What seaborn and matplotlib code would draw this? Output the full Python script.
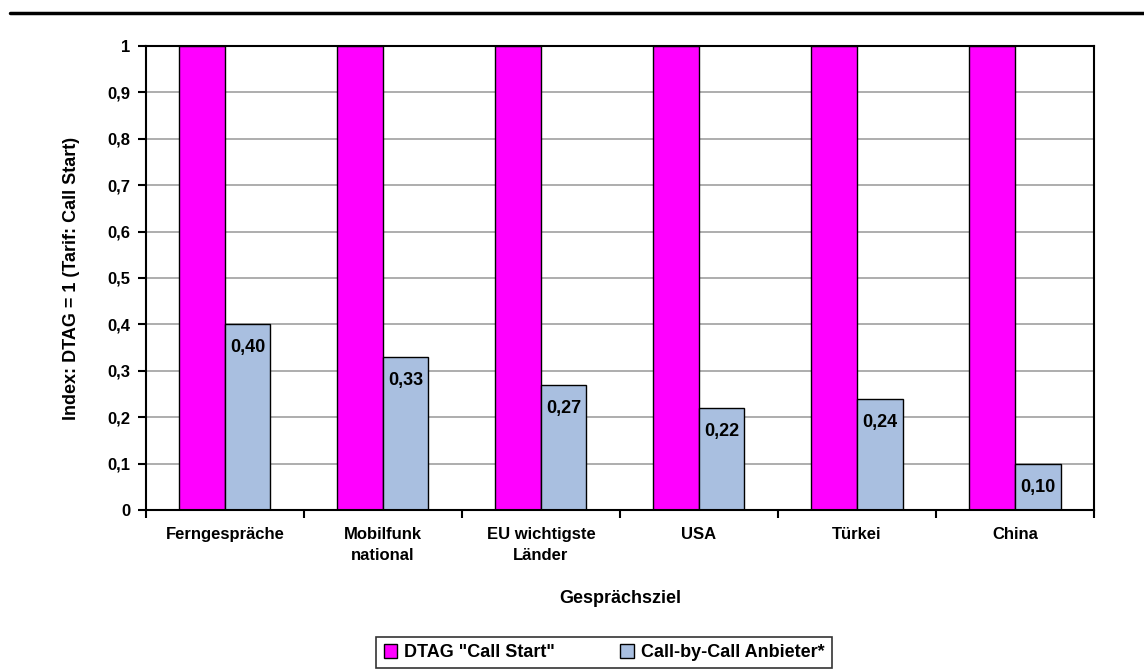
import seaborn as sns
import pandas as pd
import matplotlib.pyplot as plt
from matplotlib.lines import Line2D
from matplotlib.ticker import FixedLocator, FuncFormatter

categories = ["Ferngespräche", "Mobilfunk\nnational", "EU wichtigste\nLänder", "USA", "Türkei", "China"]
dtag = [1, 1, 1, 1, 1, 1]
cbc = [0.40, 0.33, 0.27, 0.22, 0.24, 0.10]
series = ['DTAG "Call Start"', "Call-by-Call Anbieter*"]
colors = ["#ff00ff", "#a9bfe0"]

df = pd.concat([
    pd.DataFrame({"Ziel": categories, "Wert": dtag, "Serie": series[0]}),
    pd.DataFrame({"Ziel": categories, "Wert": cbc, "Serie": series[1]}),
])

sns.set_style("white")
plt.rcParams["font.family"] = ["Liberation Sans", "DejaVu Sans"]
plt.rcParams["font.weight"] = "bold"
plt.rcParams["text.color"] = "black"
plt.rcParams["xtick.color"] = "black"
plt.rcParams["ytick.color"] = "black"
plt.rcParams["axes.labelcolor"] = "black"

fig = plt.figure(figsize=(11.44, 6.71), dpi=100)
ax = fig.add_axes([0.1276, 0.24, 0.8287, 0.6914])

sns.barplot(data=df, x="Ziel", y="Wert", hue="Serie", palette=colors, width=0.576,
            edgecolor="black", linewidth=1, saturation=1, ax=ax, legend=True)

ax.set_ylim(0, 1)
ax.set_xlim(-0.5, 5.5)
ax.set_yticks([i / 10 for i in range(11)])
ax.yaxis.set_major_formatter(FuncFormatter(lambda v, p: "0" if v == 0 else ("1" if v == 1 else f"{v:.1f}".replace(".", ","))))
ax.grid(axis="y", color="#a0a0a0", linewidth=1.2)
ax.set_axisbelow(True)
for s in ax.spines.values():
    s.set_color("black")
    s.set_linewidth(1.5)

ax.tick_params(axis="y", direction="out", length=6, width=1.5, labelsize=12, left=True, pad=5)
ax.tick_params(axis="x", which="major", length=0, labelsize=12, pad=12)
ax.xaxis.set_minor_locator(FixedLocator([i - 0.5 for i in range(7)]))
ax.tick_params(axis="x", which="minor", direction="out", length=6, width=1.5, bottom=True)
for lbl in ax.get_xticklabels() + ax.get_yticklabels():
    lbl.set_fontweight("bold")
for lbl in ax.get_xticklabels():
    lbl.set_linespacing(1.5)

ax.bar_label(ax.containers[1], labels=[f"{v:.2f}".replace(".", ",") for v in cbc],
             padding=-23, fontsize=13, fontweight="bold")

ax.set_xlabel("Gesprächsziel", fontsize=13, fontweight="bold", labelpad=20)
ax.set_ylabel("Index: DTAG = 1 (Tarif: Call Start)", fontsize=13, fontweight="bold", labelpad=20)

ax.legend(loc="upper center", bbox_to_anchor=(0.528, 34 / 671), bbox_transform=fig.transFigure,
          ncol=2, frameon=True, fancybox=False, edgecolor="black",
          handlelength=0.75, handleheight=0.75, handletextpad=0.4, columnspacing=3.6,
          borderpad=0.4, borderaxespad=0, prop={"weight": "bold", "size": 13})
ax.get_legend().get_frame().set_linewidth(1.2)

fig.add_artist(Line2D([10 / 1144, 1], [0.981, 0.981], color="black", linewidth=2.5,
                      transform=fig.transFigure))

fig.savefig("out.png", dpi=100)
